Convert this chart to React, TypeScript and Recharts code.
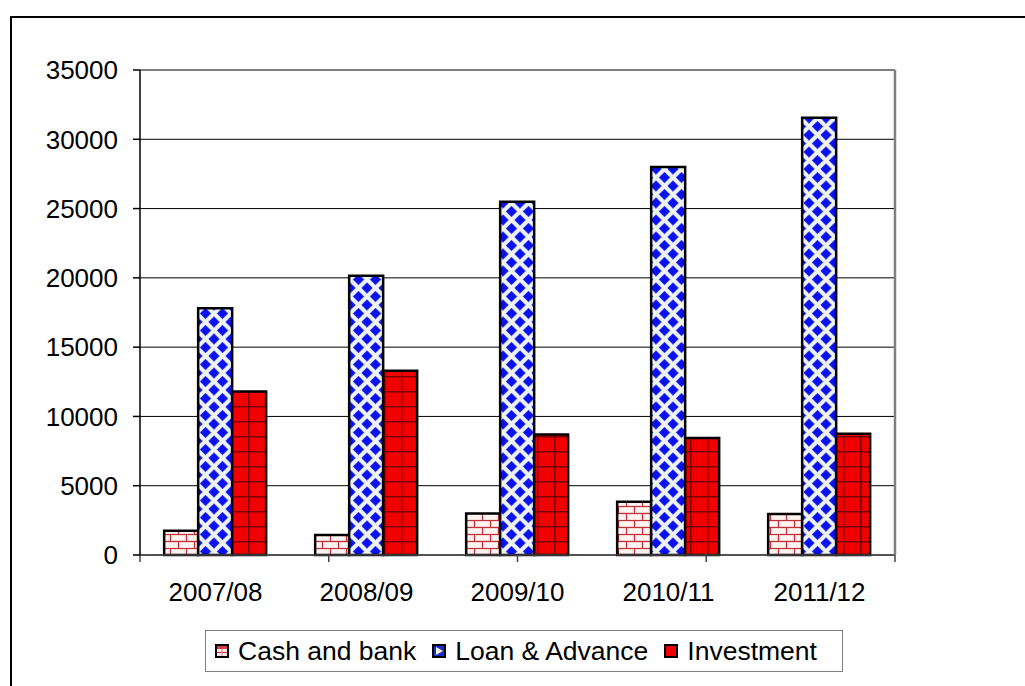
import React from 'react';
import { BarChart, Bar, XAxis, YAxis, CartesianGrid, Legend } from 'recharts';

const categories = ['2007/08', '2008/09', '2009/10', '2010/11', '2011/12'];
const cashAndBank = [1750, 1450, 3000, 3850, 2950];
const loanAdvance = [17800, 20150, 25500, 28000, 31550];
const investment = [11800, 13300, 8700, 8450, 8750];
const yTicks = [0, 5000, 10000, 15000, 20000, 25000, 30000, 35000];
const boundaryTicks = [0, 1, 2, 3, 4, 5];
const boundaryDomain: [number, number] = [0, 5];
const yDomain: [number, number] = [0, 35000];

const seriesInfo = [
  { key: 'cash', name: 'Cash and bank', fill: 'url(#brick)' },
  { key: 'loan', name: 'Loan & Advance', fill: 'url(#diamond)' },
  { key: 'invest', name: 'Investment', fill: 'url(#grid)' },
];

const data = categories.map((c, i) => ({
  category: c,
  cash: cashAndBank[i],
  loan: loanAdvance[i],
  invest: investment[i],
}));

const FONT = '"Liberation Sans", Arial, sans-serif';
const emptyFormatter = () => '';
const marksLine = { stroke: '#444', strokeWidth: 1.5 };
const labelTick = { fill: '#000', fontSize: 26, fontFamily: FONT };
const yLine = { stroke: '#000', strokeWidth: 1.5 };
const rightLine = { stroke: '#808080', strokeWidth: 2.5 };
const chartMargin = { top: 54, right: 129, bottom: 70, left: 0 };

const IconBrick = () => (
  <svg width={14} height={14} style={{ display: 'block' }}>
    <rect x={1} y={1} width={12} height={12} fill="#fbe3e3" stroke="#000" strokeWidth={2} />
    <rect x={2} y={2} width={10} height={3} fill="#d04050" />
    <line x1={2} y1={8.5} x2={12} y2={8.5} stroke="#c03040" strokeWidth={1} />
    <line x1={7} y1={5} x2={7} y2={12} stroke="#e08090" strokeWidth={1} />
  </svg>
);
const IconDiamond = () => (
  <svg width={14} height={14} style={{ display: 'block' }}>
    <rect x={1} y={1} width={12} height={12} fill="#1a2ad8" stroke="#000" strokeWidth={2} />
    <polygon points="4,3 11,7 4,11" fill="#f4f6c8" />
  </svg>
);
const IconGrid = () => (
  <svg width={14} height={14} style={{ display: 'block' }}>
    <rect x={1} y={1} width={12} height={12} fill="#ee0000" stroke="#000" strokeWidth={2} />
  </svg>
);
const icons = [IconBrick, IconDiamond, IconGrid];

const LegendBox = () => (
  <div
    style={{
      width: 638,
      height: 42,
      boxSizing: 'border-box',
      border: '1px solid #808080',
      display: 'flex',
      alignItems: 'center',
      paddingLeft: 9,
      fontFamily: FONT,
      fontSize: 26.5,
      color: '#000',
      background: '#fff',
    }}
  >
    {seriesInfo.map((s, i) => {
      const Icon = icons[i];
      return (
        <div key={s.key} style={{ display: 'flex', alignItems: 'center', marginRight: 16 }}>
          <Icon />
          <span style={{ marginLeft: 9, lineHeight: '30px' }}>{s.name}</span>
        </div>
      );
    })}
  </div>
);
const legendContent = () => <LegendBox />;
const legendWrapper = { left: 195, top: 614, width: 638, height: 42 };

export default function App() {
  return (
    <div>
      <div
        style={{
          position: 'absolute',
          left: 10,
          top: 16,
          width: 1015,
          height: 670,
          boxSizing: 'border-box',
          borderTop: '2px solid #000',
          borderLeft: '2px solid #000',
        }}
      />
      <div style={{ position: 'absolute', left: 10, top: 16 }}>
        <BarChart
          width={1015}
          height={670}
          data={data}
          margin={chartMargin}
          barCategoryGap="16%"
          barGap={0}
        >
          <defs>
            <pattern id="brick" patternUnits="userSpaceOnUse" width={16} height={14}>
              <rect x={0} y={0} width={16} height={14} fill="#fbdede" />
              <rect x={1.5} y={1.5} width={13} height={4.5} fill="#fff4f0" />
              <rect x={0} y={8.5} width={7.5} height={4.5} fill="#fff4f0" />
              <rect x={9.5} y={8.5} width={6.5} height={4.5} fill="#fff4f0" />
              <line x1={0} y1={0.5} x2={16} y2={0.5} stroke="#c0303c" strokeWidth={1.2} />
              <line x1={0} y1={7.5} x2={16} y2={7.5} stroke="#c0303c" strokeWidth={1.2} />
              <line x1={0.5} y1={0} x2={0.5} y2={7} stroke="#c0303c" strokeWidth={1.2} />
              <line x1={8.5} y1={7} x2={8.5} y2={14} stroke="#c0303c" strokeWidth={1.2} />
            </pattern>
            <pattern id="diamond" patternUnits="userSpaceOnUse" width={17} height={17}>
              <rect x={0} y={0} width={17} height={17} fill="#eef2fc" />
              <circle cx={8.5} cy={0} r={1.5} fill="#f6f8d0" />
              <circle cx={0} cy={8.5} r={1.5} fill="#f6f8d0" />
              <circle cx={17} cy={8.5} r={1.5} fill="#f6f8d0" />
              <circle cx={8.5} cy={17} r={1.5} fill="#f6f8d0" />
              <polygon points="8.5,3.2 13.8,8.5 8.5,13.8 3.2,8.5" fill="#0a10ee" stroke="#2030e0" strokeWidth={0.8} strokeLinejoin="round" />
              <polygon points="0,-5.3 5.3,0 0,5.3 -5.3,0" fill="#0a10ee" stroke="#2030e0" strokeWidth={0.8} strokeLinejoin="round" />
              <polygon points="17,-5.3 22.3,0 17,5.3 11.7,0" fill="#0a10ee" stroke="#2030e0" strokeWidth={0.8} strokeLinejoin="round" />
              <polygon points="0,11.7 5.3,17 0,22.3 -5.3,17" fill="#0a10ee" stroke="#2030e0" strokeWidth={0.8} strokeLinejoin="round" />
              <polygon points="17,11.7 22.3,17 17,22.3 11.7,17" fill="#0a10ee" stroke="#2030e0" strokeWidth={0.8} strokeLinejoin="round" />
            </pattern>
            <pattern id="grid" patternUnits="userSpaceOnUse" width={17} height={15}>
              <rect x={0} y={0} width={17} height={15} fill="#f20000" />
              <line x1={0} y1={0.75} x2={17} y2={0.75} stroke="#7a0000" strokeWidth={1.5} />
              <line x1={0.75} y1={0} x2={0.75} y2={15} stroke="#7a0000" strokeWidth={1.5} />
            </pattern>
          </defs>
          <CartesianGrid vertical={false} stroke="#000" strokeWidth={1} yAxisId="left" xAxisId="b_cat" />
          <XAxis
            xAxisId="a_marks"
            type="number"
            domain={boundaryDomain}
            ticks={boundaryTicks}
            height={1}
            tickSize={7}
            tickFormatter={emptyFormatter}
            stroke="#444"
            axisLine={marksLine}
            tickLine={marksLine}
            allowDataOverflow
          />
          <XAxis
            xAxisId="b_cat"
            dataKey="category"
            height={60}
            tickSize={7}
            tickMargin={20}
            tickLine={false}
            axisLine={false}
            tick={labelTick}
            interval={0}
          />
          <YAxis
            yAxisId="left"
            width={130}
            domain={yDomain}
            ticks={yTicks}
            tickSize={7}
            tickMargin={15}
            axisLine={yLine}
            tickLine={yLine}
            tick={labelTick}
            interval={0}
          />
          <YAxis
            yAxisId="right"
            orientation="right"
            width={1}
            domain={yDomain}
            tick={false}
            tickLine={false}
            axisLine={rightLine}
          />
          <Legend
            verticalAlign="middle"
            align="center"
            layout="horizontal"
            wrapperStyle={legendWrapper}
            content={legendContent}
          />
          {seriesInfo.map((s) => (
            <Bar
              key={s.key}
              dataKey={s.key}
              name={s.name}
              xAxisId="b_cat"
              yAxisId="left"
              fill={s.fill}
              stroke="#000"
              strokeWidth={2.5}
              isAnimationActive={false}
            />
          ))}
        </BarChart>
      </div>
    </div>
  );
}
